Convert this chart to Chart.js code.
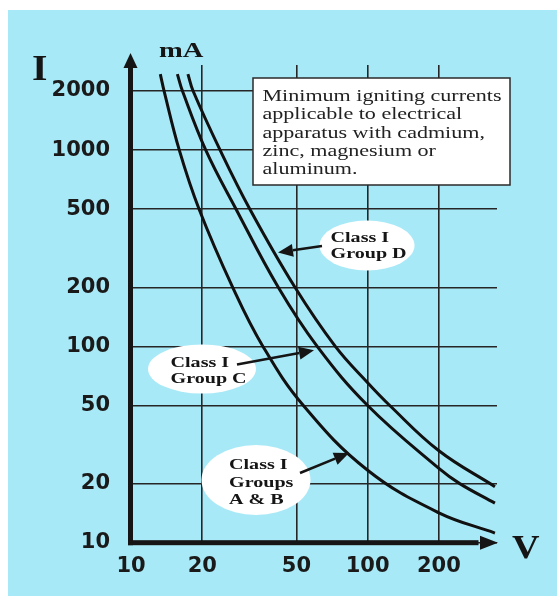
<!DOCTYPE html>
<html><head><meta charset="utf-8">
<script src="https://cdn.jsdelivr.net/npm/chart.js@4/dist/chart.umd.min.js"></script>
<style>html,body{margin:0;padding:0;background:#fff;}canvas{display:block;}</style>
</head><body>
<canvas id="c" width="557" height="596"></canvas>
<script>
// ---- data ----
const xTicks = [10, 20, 50, 100, 200];
const yTicks = [10, 20, 50, 100, 200, 500, 1000, 2000];
const xMin = 10, xMax = 352;
const yMin = 10, yMax = 2714;

const vAB = [13.3, 13.8, 16.0, 19.4, 26.9, 36.1, 53.5, 100, 200, 345];
const iAB = [2440, 2000, 1000, 500, 200, 100, 50, 23.4, 14.2, 11.2];

const vC = [15.7, 16.5, 20.7, 27.8, 41.9, 61.2, 100, 200, 245, 345];
const iC = [2440, 2000, 1000, 500, 200, 100, 50, 23.9, 20, 15.9];

const vD = [17.4, 18.3, 23.8, 31.8, 49.3, 73, 100, 124, 200, 345];
const iD = [2440, 2000, 1000, 500, 200, 100, 65.3, 50, 29.4, 19.3];

const seriesNames = ['Class I Groups A & B', 'Class I Group C', 'Class I Group D'];
const noteLines = ['Minimum igniting currents', 'applicable to electrical', 'apparatus with cadmium,', 'zinc, magnesium or', 'aluminum.'];
const labelD = ['Class I', 'Group D'];
const labelC = ['Class I', 'Group C'];
const labelAB = ['Class I', 'Groups', 'A & B'];
const yTitle = 'I', yUnit = 'mA', xTitle = 'V';

// ---- helpers ----
const pts = (xs, ys) => xs.map((x, k) => ({x: x, y: ys[k]}));
const INK = '#151515';
function sText(ctx, txt, x, y, sx) {
  ctx.save(); ctx.translate(x, y); ctx.scale(sx, 1); ctx.fillText(txt, 0, 0); ctx.restore();
}
function ellipse(ctx, cx, cy, rx, ry) {
  ctx.beginPath(); ctx.ellipse(cx, cy, rx, ry, 0, 0, Math.PI * 2);
  ctx.fillStyle = '#ffffff'; ctx.fill();
}
function arrow(ctx, x0, y0, x1, y1) {
  const a = Math.atan2(y1 - y0, x1 - x0), L = 15, W = 6.5;
  const bx = x1 - L * Math.cos(a), by = y1 - L * Math.sin(a);
  ctx.strokeStyle = INK; ctx.lineWidth = 2.6; ctx.lineCap = 'butt';
  ctx.beginPath(); ctx.moveTo(x0, y0); ctx.lineTo(bx, by); ctx.stroke();
  ctx.fillStyle = INK; ctx.beginPath();
  ctx.moveTo(x1, y1);
  ctx.lineTo(bx + W * Math.sin(a), by - W * Math.cos(a));
  ctx.lineTo(bx - W * Math.sin(a), by + W * Math.cos(a));
  ctx.closePath(); ctx.fill();
}
function labelBlock(ctx, lines, x, y0, dy) {
  ctx.fillStyle = INK; ctx.font = 'bold 15px "Liberation Serif"';
  ctx.textAlign = 'left'; ctx.textBaseline = 'alphabetic';
  lines.forEach((t, k) => sText(ctx, t, x, y0 + k * dy, 1.34));
}

const bgPlugin = {
  id: 'bg',
  beforeDraw(chart) {
    const ctx = chart.ctx;
    ctx.save();
    ctx.fillStyle = '#ffffff'; ctx.fillRect(0, 0, chart.width, chart.height);
    ctx.fillStyle = '#a8e9f7'; ctx.fillRect(8, 10, chart.width - 8, chart.height - 10);
    ctx.restore();
  }
};

const decoPlugin = {
  id: 'deco',
  afterDraw(chart) {
    const ctx = chart.ctx, a = chart.chartArea;
    ctx.save();
    // axes with arrows
    ctx.fillStyle = INK;
    const ax = a.left - 0.5, ay = a.bottom;
    ctx.fillRect(ax - 2.5, a.top + 2, 5, ay - a.top + 0.5);
    ctx.beginPath(); ctx.moveTo(ax, a.top - 12); ctx.lineTo(ax - 7, a.top + 3); ctx.lineTo(ax + 7, a.top + 3); ctx.closePath(); ctx.fill();
    ctx.fillRect(ax - 2.5, ay - 2.5, a.right - 16 - ax, 5);
    ctx.beginPath(); ctx.moveTo(a.right + 1, ay); ctx.lineTo(a.right - 17, ay - 7); ctx.lineTo(a.right - 17, ay + 7); ctx.closePath(); ctx.fill();

    // axis titles
    ctx.fillStyle = INK; ctx.textAlign = 'left'; ctx.textBaseline = 'alphabetic';
    ctx.font = 'bold 36px "Liberation Serif"'; sText(ctx, yTitle, 32, 80, 1.1);
    ctx.font = 'bold 22px "Liberation Serif"'; sText(ctx, yUnit, 159, 57, 1.3);
    ctx.font = 'bold 34px "Liberation Serif"'; sText(ctx, xTitle, 512, 558, 1.12);

    // note box
    ctx.fillStyle = '#ffffff'; ctx.fillRect(253, 78, 257, 107);
    ctx.strokeStyle = '#2a2a2a'; ctx.lineWidth = 1.5; ctx.strokeRect(253, 78, 257, 107);
    ctx.fillStyle = '#222222'; ctx.font = '16.6px "Liberation Serif"';
    noteLines.forEach((t, k) => sText(ctx, t, 262.5, 101 + k * 18.3, 1.33));

    // callouts
    ellipse(ctx, 367, 245.5, 47.5, 25);
    labelBlock(ctx, labelD, 330.5, 241.7, 16);
    arrow(ctx, 322, 246, 278, 252.5);

    ellipse(ctx, 202, 369, 54, 24.5);
    labelBlock(ctx, labelC, 170.5, 366.7, 16.6);
    arrow(ctx, 237, 364.5, 314, 350.3);

    ellipse(ctx, 256, 480, 54.5, 35);
    labelBlock(ctx, labelAB, 229, 469.3, 17.3);
    arrow(ctx, 300, 473, 349, 453);
    ctx.restore();
  }
};

const lineStyle = {borderColor: '#111111', borderWidth: 3, pointRadius: 0, fill: false, tension: 0.4};

new Chart(document.getElementById('c'), {
  type: 'line',
  data: {
    datasets: [
      Object.assign({label: seriesNames[0], data: pts(vAB, iAB)}, lineStyle),
      Object.assign({label: seriesNames[1], data: pts(vC, iC)}, lineStyle),
      Object.assign({label: seriesNames[2], data: pts(vD, iD)}, lineStyle)
    ]
  },
  options: {
    responsive: false, animation: false, devicePixelRatio: 1,
    layout: {padding: {left: 0, right: 60, top: 65, bottom: 0}},
    plugins: {legend: {display: false}, tooltip: {enabled: false}},
    scales: {
      x: {
        type: 'logarithmic', min: xMin, max: xMax,
        afterBuildTicks: s => { s.ticks = xTicks.map(v => ({value: v})); },
        afterFit: s => { s.height = 53.3; },
        grid: {color: '#262626', lineWidth: 1.6, drawTicks: false},
        border: {display: false},
        ticks: {color: '#1a1a1a', font: {family: 'DejaVu Sans', weight: 'bold', size: 21}, padding: 11, maxRotation: 0, autoSkip: false, callback: v => String(v)}
      },
      y: {
        type: 'logarithmic', min: yMin, max: yMax,
        afterBuildTicks: s => { s.ticks = yTicks.map(v => ({value: v})); },
        afterFit: s => { s.width = 131; },
        grid: {color: '#262626', lineWidth: 1.6, drawTicks: false},
        border: {display: false},
        ticks: {color: '#1a1a1a', font: {family: 'DejaVu Sans', weight: 'bold', size: 21}, padding: 21, autoSkip: false, callback: v => String(v)}
      }
    }
  },
  plugins: [bgPlugin, decoPlugin]
});
</script>
</body></html>
